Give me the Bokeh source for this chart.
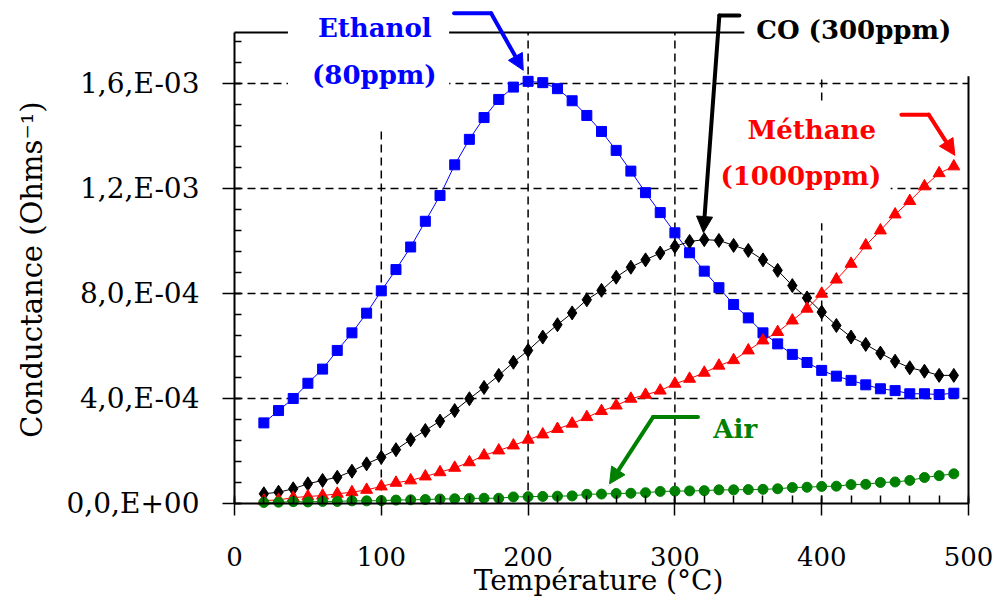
import math
from bokeh.plotting import figure
from bokeh.models import Range1d, FixedTicker, Arrow, NormalHead, Label, BoxAnnotation
from bokeh.embed import file_html
from bokeh.resources import INLINE

# ---------------- data (conductance in units of 1e-4 Ohms^-1) ----------------
temperature_c = [20, 30, 40, 50, 60, 70, 80, 90, 100, 110, 120, 130, 140, 150, 160, 170,
                 180, 190, 200, 210, 220, 230, 240, 250, 260, 270, 280, 290, 300, 310, 320, 330,
                 340, 350, 360, 370, 380, 390, 400, 410, 420, 430, 440, 450, 460, 470, 480, 490]

ethanol = [3.07, 3.54, 4.00, 4.58, 5.12, 5.83, 6.50, 7.25, 8.10, 8.91, 9.77, 10.75, 11.73, 12.90, 13.87, 14.70,
           15.39, 15.86, 16.08, 16.03, 15.80, 15.34, 14.78, 14.17, 13.45, 12.66, 11.84, 11.08, 10.31, 9.55, 8.85, 8.22,
           7.58, 7.07, 6.50, 6.08, 5.68, 5.37, 5.07, 4.85, 4.69, 4.52, 4.37, 4.30, 4.18, 4.18, 4.15, 4.20]

co = [0.37, 0.43, 0.56, 0.75, 0.88, 1.00, 1.23, 1.51, 1.76, 2.05, 2.43, 2.78, 3.14, 3.54, 3.99, 4.42,
      4.88, 5.38, 5.83, 6.34, 6.81, 7.26, 7.76, 8.12, 8.62, 9.00, 9.28, 9.54, 9.79, 9.98, 10.05, 10.02,
      9.83, 9.64, 9.28, 8.88, 8.30, 7.83, 7.29, 6.78, 6.34, 6.06, 5.73, 5.42, 5.17, 5.04, 4.88, 4.88]

methane = [0.11, 0.14, 0.22, 0.27, 0.30, 0.37, 0.43, 0.52, 0.65, 0.79, 0.88, 1.03, 1.19, 1.36, 1.57, 1.83,
           2.02, 2.21, 2.43, 2.63, 2.84, 3.04, 3.29, 3.52, 3.73, 3.99, 4.14, 4.30, 4.56, 4.75, 4.98, 5.25,
           5.46, 5.83, 6.21, 6.53, 6.97, 7.42, 7.99, 8.53, 9.13, 9.83, 10.40, 11.01, 11.52, 12.08, 12.58, 12.84]

air = [0.04, 0.05, 0.07, 0.06, 0.08, 0.08, 0.10, 0.10, 0.11, 0.13, 0.14, 0.15, 0.17, 0.18, 0.19, 0.20,
       0.20, 0.25, 0.26, 0.27, 0.28, 0.29, 0.35, 0.36, 0.38, 0.39, 0.41, 0.46, 0.47, 0.48, 0.49, 0.52,
       0.52, 0.53, 0.54, 0.56, 0.61, 0.62, 0.65, 0.66, 0.72, 0.73, 0.80, 0.82, 0.88, 0.99, 1.06, 1.13]

x_ticks = [0, 100, 200, 300, 400, 500]
y_ticks = [0, 4, 8, 12, 16]
y_tick_labels = ["0,0,E+00", "4,0,E-04", "8,0,E-04", "1,2,E-03", "1,6,E-03"]
x_grid = [100, 200, 300, 400]
y_grid = [4, 8, 12, 16]
x_title = "Temp\u00e9rature (\u00b0C)"
y_title = "Conductance (Ohms\u207b\u00b9)"

BLUE = "#0000FF"
RED = "#FF0000"
GREEN = "#008000"
BLACK = "#000000"
FONT = "DejaVu Serif"

X_MAX = 500
Y_TOP = 17.94      # top edge of the drawn frame
W, H = 994, 602
X0_PX, Y0_PX = 234, 503          # where (0, 0) sits on the canvas
SX = 734 / X_MAX                  # px per degree
SY = 471 / Y_TOP                  # px per 1e-4

# the plotting area covers the whole canvas; the axes are pinned at 0
XA, XB = -X0_PX / SX, (W - X0_PX) / SX
YA, YB = -(H - Y0_PX) / SY, Y0_PX / SY
x_range = Range1d(XA, XB)
y_range = Range1d(YA, YB)

p = figure(width=W, height=H, x_range=x_range, y_range=y_range,
           output_backend="svg", toolbar_location=None,
           min_border_left=0, min_border_right=0, min_border_top=0, min_border_bottom=0)
p.outline_line_color = None
p.background_fill_color = "white"
p.border_fill_color = "white"
p.xgrid.visible = False
p.ygrid.visible = False

# dashed grid, limited to the frame
p.segment(x0=x_grid, y0=[0] * len(x_grid), x1=x_grid, y1=[Y_TOP] * len(x_grid),
          line_color=BLACK, line_dash="8 5", line_width=1.5, level="underlay")
p.segment(x0=[0] * len(y_grid), y0=y_grid, x1=[X_MAX] * len(y_grid), y1=y_grid,
          line_color=BLACK, line_dash="8 5", line_width=1.5, level="underlay")

# white boxes opening the grid behind the annotations
for box in [dict(left=36.4, right=146.2, bottom=14.29, top=Y_TOP + 1),
            dict(left=347.3, right=X_MAX + 1, bottom=16.19, top=Y_TOP + 1),
            dict(left=318.0, right=447.0, bottom=10.67, top=15.24)]:
    p.add_layout(BoxAnnotation(fill_color="white", fill_alpha=1.0, line_color=None,
                               level="underlay", **box))

# axes
p.xaxis.fixed_location = 0
p.yaxis.fixed_location = 0
p.xaxis.bounds = (0, X_MAX)
p.yaxis.bounds = (0, Y_TOP)
p.xaxis.ticker = FixedTicker(ticks=x_ticks, minor_ticks=list(range(0, 501, 20)))
p.yaxis.ticker = FixedTicker(ticks=y_ticks, minor_ticks=[round(0.8 * i, 2) for i in range(23)])
p.yaxis.major_label_overrides = {t: s for t, s in zip(y_ticks, y_tick_labels)}
for ax in (p.xaxis, p.yaxis):
    ax.axis_line_color = BLACK
    ax.axis_line_width = 2
    ax.major_tick_line_color = BLACK
    ax.major_tick_line_width = 1.5
    ax.minor_tick_line_color = BLACK
    ax.minor_tick_line_width = 1.5
    ax.major_tick_out = 12
    ax.minor_tick_out = 0
    ax.major_label_text_font = FONT
    ax.major_label_text_color = BLACK
p.xaxis.major_tick_in = 5
p.xaxis.minor_tick_in = 8
p.yaxis.major_tick_in = 6
p.yaxis.minor_tick_in = 7
p.xaxis.major_label_text_font_size = "26px"
p.yaxis.major_label_text_font_size = "28px"
p.xaxis.major_label_standoff = 31
p.yaxis.major_label_standoff = 23

# series
p.line(temperature_c, ethanol, line_color=BLUE, line_width=1)
p.scatter(temperature_c, ethanol, marker="square", size=10, fill_color=BLUE, line_color=BLUE)
p.line(temperature_c, co, line_color=BLACK, line_width=1)
p.scatter(temperature_c, co, marker="diamond", size=14, fill_color=BLACK, line_color=BLACK)
p.line(temperature_c, methane, line_color=RED, line_width=1)
p.scatter(temperature_c, methane, marker="triangle", size=12, fill_color=RED, line_color=RED)
p.line(temperature_c, air, line_color=GREEN, line_width=1)
p.scatter(temperature_c, air, marker="circle", size=10, fill_color=GREEN, line_color=GREEN)

# top / right frame pieces (interrupted by the labels)
for (x0, y0, x1, y1) in [(0, Y_TOP, 36.4, Y_TOP), (146.2, Y_TOP, 347.3, Y_TOP), (X_MAX, 0, X_MAX, 16.27)]:
    p.add_layout(Arrow(end=None, x_start=x0, y_start=y0, x_end=x1, y_end=y1,
                       line_color=BLACK, line_width=2))

# annotation arrows: (corner path, colour)
arrows = [
    ([(149.6, 18.67), (174.8, 18.67), (196.7, 16.50)], BLUE),
    ([(343.9, 18.59), (330.3, 18.59), (319.4, 10.32)], BLACK),
    ([(454.3, 14.81), (472.9, 14.81), (490.7, 13.26)], RED),
    ([(315.7, 3.29), (285.1, 3.29), (255.5, 0.75)], GREEN),
]
for pts, col in arrows:
    (xa, ya), (xb, yb), (xc, yc) = pts
    p.add_layout(Arrow(end=None, x_start=xa, y_start=ya, x_end=xb, y_end=yb,
                       line_color=col, line_width=4, line_cap="round"))
    p.add_layout(Arrow(end=NormalHead(size=16, fill_color=col, line_color=col),
                       x_start=xb, y_start=yb, x_end=xc, y_end=yc,
                       line_color=col, line_width=4, line_cap="round"))

# annotation texts
labels = [
    ("Ethanol", 56.9, 18.13, BLUE),
    ("(80ppm)", 52.8, 16.34, BLUE),
    ("CO (300ppm)", 355.4, 18.05, BLACK),
    ("M\u00e9thane", 349.4, 14.24, RED),
    ("(1000ppm)", 331.0, 12.49, RED),
    ("Air", 326.2, 2.82, GREEN),
]
for txt, x, y, col in labels:
    p.add_layout(Label(x=x, y=y, text=txt, text_font=FONT, text_font_style="bold",
                       text_font_size="26px", text_color=col, text_baseline="alphabetic",
                       text_align="left"))

# axis titles
p.add_layout(Label(x=248, y=-2.95, text=x_title, text_font=FONT, text_font_size="28px",
                   text_color=BLACK, text_align="center", text_baseline="alphabetic"))
p.add_layout(Label(x=-138.0, y=8.91, text=y_title, text_font=FONT, text_font_size="29px",
                   text_color=BLACK, text_align="center", text_baseline="middle",
                   angle=math.pi / 2))

# clean strip along the left canvas edge
p.add_layout(BoxAnnotation(left=XA - 10, right=XA + 10 / SX, bottom=YA - 1, top=YB + 1,
                           fill_color="white", fill_alpha=1.0, line_color=None, level="overlay"))

open("out.html", "w").write(file_html(p, INLINE))
